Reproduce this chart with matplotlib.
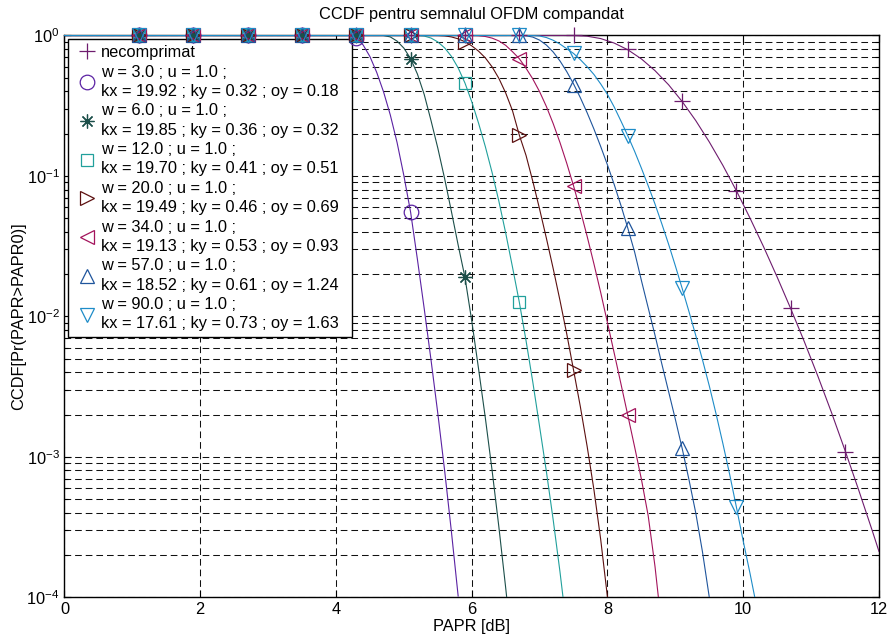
import numpy as np
import matplotlib
matplotlib.use("Agg")
import matplotlib.pyplot as plt
from matplotlib.ticker import LogLocator, NullFormatter, FixedLocator

plt.rcParams['font.family'] = ['Liberation Sans', 'DejaVu Sans']
plt.rcParams['mathtext.default'] = 'regular'

# ---------------- data ----------------
marker_x = [1.1, 1.9, 2.7, 3.5, 4.3, 5.1, 5.9, 6.7, 7.5, 8.3, 9.1, 9.9, 10.7, 11.5]

# necomprimat
nc_x = [0, 7.5, 7.7, 7.9, 8.1, 8.3, 8.5, 8.7, 8.9, 9.1, 9.3, 9.5, 9.7, 9.9, 10.1, 10.3,
        10.5, 10.7, 10.9, 11.1, 11.3, 11.5, 11.7, 11.9, 12.0]
nc_y = [1, 1, 0.9886, 0.951, 0.883, 0.791, 0.681, 0.562, 0.446, 0.339, 0.248, 0.1746,
        0.1189, 0.0783, 0.0501, 0.0313, 0.01905, 0.01135, 0.00661, 0.00375, 0.00207,
        0.00111, 0.000582, 0.000299, 0.000212]
nc_mk = [1, 1, 1, 1, 1, 1, 1, 1, 1, 0.80, 0.342, 0.0785, 0.0114, 0.00108]

# w = 3
c1_x = [0, 4.2, 4.3, 4.4, 4.5, 4.6, 4.7, 4.8, 4.9, 5.0, 5.1, 5.2, 5.3, 5.4, 5.5, 5.6, 5.7, 5.8]
c1_y = [1, 1, 0.960, 0.856, 0.708, 0.546, 0.398, 0.272, 0.173, 0.1006, 0.055, 0.0254,
        0.01135, 0.0049, 0.00204, 0.000804, 0.000295, 0.000102]
c1_mk = [1, 1, 1, 1, 0.96, 0.055]

# w = 6
c2_x = [0, 4.7, 4.8, 4.9, 5.0, 5.1, 5.2, 5.3, 5.4, 5.5, 5.6, 5.7, 5.8, 5.9, 6.0, 6.1,
        6.2, 6.3, 6.4, 6.5, 6.515]
c2_y = [1, 1, 0.977, 0.912, 0.813, 0.684, 0.531, 0.380, 0.248, 0.158, 0.0960, 0.0560,
        0.0322, 0.0190, 0.0093, 0.00425, 0.00190, 0.000800, 0.000316, 0.000117, 0.0001]
c2_mk = [1, 1, 1, 1, 1, 0.684, 0.0190]

# w = 12
c3_x = [0, 5.2, 5.3, 5.4, 5.5, 5.6, 5.7, 5.8, 5.9, 6.0, 6.1, 6.2, 6.3, 6.4, 6.5, 6.6,
        6.7, 6.8, 6.9, 7.0, 7.1, 7.2, 7.3, 7.345]
c3_y = [1, 1, 0.991, 0.959, 0.900, 0.817, 0.711, 0.588, 0.459, 0.338, 0.238, 0.162,
        0.1058, 0.0660, 0.0393, 0.0225, 0.0127, 0.00672, 0.00340, 0.00164, 0.000785,
        0.000356, 0.000152, 0.0001]
c3_mk = [1, 1, 1, 1, 1, 1, 0.459, 0.0127]

# w = 20
c4_x = [0, 5.5, 5.6, 5.7, 5.8, 5.9, 6.0, 6.1, 6.2, 6.3, 6.4, 6.5, 6.6, 6.7, 6.8, 6.9,
        7.0, 7.1, 7.2, 7.3, 7.4, 7.5, 7.6, 7.7, 7.8, 7.9, 8.0]
c4_y = [1, 1, 0.994, 0.977, 0.947, 0.903, 0.844, 0.774, 0.693, 0.598, 0.495, 0.390,
        0.292, 0.196, 0.1400, 0.0915, 0.0580, 0.0360, 0.02190, 0.01300, 0.00750,
        0.00415, 0.00228, 0.00119, 0.000585, 0.000258, 0.0001]
c4_mk = [1, 1, 1, 1, 1, 1, 0.903, 0.196, 0.00415]

# w = 34
c5_x = [0, 6.0, 6.1, 6.2, 6.3, 6.4, 6.5, 6.6, 6.7, 6.8, 6.9, 7.0, 7.1, 7.2, 7.3, 7.4,
        7.5, 7.6, 7.7, 7.8, 7.9, 8.0, 8.1, 8.2, 8.3, 8.4, 8.5, 8.6, 8.7, 8.75]
c5_y = [1, 1, 0.9965, 0.984, 0.958, 0.915, 0.851, 0.767, 0.685, 0.585, 0.490, 0.398,
        0.312, 0.236, 0.1730, 0.1230, 0.0850, 0.0570, 0.0372, 0.0237, 0.0148, 0.00900,
        0.00545, 0.00328, 0.00197, 0.001175, 0.000692, 0.00038, 0.000166, 0.0001]
c5_mk = [1, 1, 1, 1, 1, 1, 1, 0.685, 0.0850, 0.00197]

# w = 57
c6_x = [0, 6.7, 6.8, 6.9, 7.0, 7.1, 7.2, 7.3, 7.4, 7.5, 7.6, 7.7, 7.8, 7.9, 8.0, 8.1,
        8.2, 8.3, 8.4, 8.5, 8.6, 8.7, 8.8, 8.9, 9.0, 9.1, 9.2, 9.3, 9.4, 9.5]
c6_y = [1, 1, 0.9954, 0.974, 0.927, 0.855, 0.763, 0.659, 0.553, 0.452, 0.361, 0.282,
        0.216, 0.162, 0.1197, 0.0866, 0.0613, 0.0424, 0.0287, 0.0180, 0.0115, 0.00735,
        0.00460, 0.00292, 0.00185, 0.00115, 0.000690, 0.000400, 0.000210, 0.0001]
c6_mk = [1, 1, 1, 1, 1, 1, 1, 1, 0.445, 0.0424, 0.00115]

# w = 90
c7_x = [0, 6.9, 7.0, 7.1, 7.2, 7.3, 7.4, 7.5, 7.6, 7.7, 7.8, 7.9, 8.0, 8.1, 8.2, 8.3,
        8.4, 8.5, 8.6, 8.7, 8.8, 8.9, 9.0, 9.1, 9.2, 9.3, 9.4, 9.5, 9.6, 9.7, 9.8, 9.9,
        10.0, 10.1, 10.17]
c7_y = [1, 1, 0.992, 0.967, 0.925, 0.869, 0.805, 0.745, 0.673, 0.600, 0.528, 0.452,
        0.380, 0.309, 0.245, 0.193, 0.1496, 0.1135, 0.0851, 0.0631, 0.0457, 0.0327,
        0.0229, 0.01585, 0.01084, 0.00733, 0.0049, 0.0032, 0.00202, 0.001245, 0.00075,
        0.000437, 0.000251, 0.000148, 0.0001]
c7_mk = [1, 1, 1, 1, 1, 1, 1, 1, 0.745, 0.193, 0.01585, 0.000437]

w_vals = [3.0, 6.0, 12.0, 20.0, 34.0, 57.0, 90.0]
u_vals = [1.0, 1.0, 1.0, 1.0, 1.0, 1.0, 1.0]
kx_vals = [19.92, 19.85, 19.70, 19.49, 19.13, 18.52, 17.61]
ky_vals = [0.32, 0.36, 0.41, 0.46, 0.53, 0.61, 0.73]
oy_vals = [0.18, 0.32, 0.51, 0.69, 0.93, 1.24, 1.63]

labels = ['necomprimat'] + [
    f'w = {w:.1f} ; u = {u:.1f} ;\nkx = {kx:.2f} ; ky = {ky:.2f} ; oy = {oy:.2f}'
    for w, u, kx, ky, oy in zip(w_vals, u_vals, kx_vals, ky_vals, oy_vals)]

# ---------------- style ----------------
colors = ['#6E1C6E', '#5B22A3', '#1C4F4A', '#21A09C', '#5C1010', '#A3145C', '#1F559C', '#1E8CC8']
markers = ['+', 'o', (8, 2, 0), 's', '>', '<', '^', 'v']
msizes = [12, 10.5, 10, 9, 10, 10, 10, 10]

curves = [(nc_x, nc_y, nc_mk), (c1_x, c1_y, c1_mk), (c2_x, c2_y, c2_mk), (c3_x, c3_y, c3_mk),
          (c4_x, c4_y, c4_mk), (c5_x, c5_y, c5_mk), (c6_x, c6_y, c6_mk), (c7_x, c7_y, c7_mk)]

FS = 11.8
fig = plt.figure(figsize=(8.92, 6.35), dpi=100)
ax = fig.add_axes([0.0723, 0.0594, 0.9131, 0.8847])
ax.set_yscale('log')
ax.set_xlim(0, 12)
ax.set_ylim(1e-4, 1)

handles = []
for (xs, ys, mk), c, m, ms, lab in zip(curves, colors, markers, msizes, labels):
    ax.plot(xs, ys, color=c, lw=0.8, zorder=3)
    h, = ax.plot(marker_x[:len(mk)], mk, linestyle='none', marker=m, markersize=ms,
                 markerfacecolor='none', markeredgecolor=c, markeredgewidth=0.9,
                 clip_on=False, zorder=6, label=lab)
    handles.append(h)

# grid
ax.xaxis.set_major_locator(FixedLocator([0, 2, 4, 6, 8, 10, 12]))
ax.yaxis.set_major_locator(LogLocator(base=10, numticks=10))
ax.yaxis.set_minor_locator(LogLocator(base=10, subs=np.arange(2, 10), numticks=20))
ax.yaxis.set_minor_formatter(NullFormatter())
ax.grid(True, which='major', axis='both', color='#111111', lw=0.75, linestyle=(0, (6.4, 3.8)))
ax.grid(True, which='minor', axis='y', color='#111111', lw=0.75, linestyle=(0, (6.4, 3.8)))
ax.set_axisbelow(True)

ax.tick_params(which='both', direction='in', top=True, right=True, labelsize=FS)
ax.tick_params(which='major', length=5, width=0.8)
ax.tick_params(which='minor', length=3, width=0.8)
for s in ax.spines.values():
    s.set_linewidth(1.0)

ax.set_title('CCDF pentru semnalul OFDM compandat', fontsize=FS, pad=12)
ax.set_xlabel('PAPR [dB]', fontsize=FS, labelpad=1)
ax.set_ylabel('CCDF[Pr(PAPR>PAPR0)]', fontsize=FS, labelpad=0.5)

leg = ax.legend(handles=handles, loc='upper left', bbox_to_anchor=(0.0043, 0.5, 0.3487, 0.4929),
                mode='expand', borderaxespad=0, fontsize=FS, frameon=True, fancybox=False,
                edgecolor='black', framealpha=1, handlelength=1.6, handletextpad=0.05,
                borderpad=0.35, labelspacing=0.27)
leg.get_frame().set_linewidth(1.0)
leg.set_zorder(5)
for t in leg.get_texts():
    t.set_linespacing(1.36)

fig.savefig('out.png', dpi=100)
